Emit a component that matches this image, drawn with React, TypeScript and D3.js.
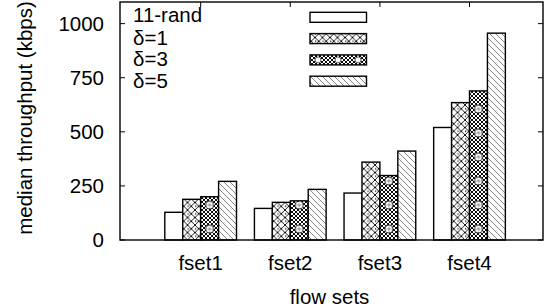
import React, { useEffect, useRef } from 'react';
import * as d3 from 'd3';

const categories = ['fset1', 'fset2', 'fset3', 'fset4'];
const seriesNames = ['11-rand', 'δ=1', 'δ=3', 'δ=5'];
const rand11 = [128, 146, 217, 520];
const delta1 = [188, 174, 360, 635];
const delta3 = [200, 181, 298, 689];
const delta5 = [271, 234, 411, 956];
const yTicks = [0, 250, 500, 750, 1000];

const W = 544;
const H = 308;
const FONT = '"Liberation Sans", Arial, sans-serif';

function App() {
  const ref = useRef<SVGSVGElement>(null);

  useEffect(() => {
    const svg = d3.select(ref.current);
    svg.selectAll('*').remove();

    const left = 120, right = 543, top = 2, bottom = 240;
    const x = d3.scaleLinear().domain([-0.9, 3.82]).range([left, right]);
    const y = d3.scaleLinear().domain([0, 1100]).range([bottom, top]);
    const step = x(1) - x(0);
    const bw = 0.2; // bar width in category units

    const series = [rand11, delta1, delta3, delta5];
    const fills = ['#fff', 'url(#cross1)', 'url(#cross3)', 'url(#diag5)'];

    // patterns
    const defs = svg.append('defs');
    const p1 = defs.append('pattern').attr('id', 'cross1').attr('patternUnits', 'userSpaceOnUse')
      .attr('width', 7.5).attr('height', 7.5);
    p1.append('rect').attr('width', 7.5).attr('height', 7.5).attr('fill', '#fff');
    p1.append('path').attr('d', 'M0,0L7.5,7.5M7.5,0L0,7.5').attr('stroke', '#000').attr('stroke-width', 0.9);
    p1.append('rect').attr('x', 0).attr('y', 3.2).attr('width', 1.2).attr('height', 1.2).attr('fill', '#000');

    const p3 = defs.append('pattern').attr('id', 'cross3').attr('patternUnits', 'userSpaceOnUse')
      .attr('width', 4).attr('height', 4);
    p3.append('rect').attr('width', 4).attr('height', 4).attr('fill', '#fff');
    p3.append('path').attr('d', 'M0,0L4,4M4,0L0,4').attr('stroke', '#000').attr('stroke-width', 0.95);

    // circle ornaments for the δ=3 column, repeated every category step
    const c3x = x(0) + 0.5 * bw * step;
    const p3c = defs.append('pattern').attr('id', 'circ3').attr('patternUnits', 'userSpaceOnUse')
      .attr('x', c3x - step / 2).attr('y', bottom - 11).attr('width', step).attr('height', 24);
    [0, 24].forEach(cy => {
      p3c.append('circle').attr('cx', step / 2).attr('cy', cy).attr('r', 4)
        .attr('fill', '#fff').attr('stroke', '#222').attr('stroke-width', 1);
      p3c.append('path').attr('d', `M${step / 2 - 2.5},${cy}H${step / 2 + 2.5}M${step / 2},${cy - 2.5}V${cy + 2.5}`)
        .attr('stroke', '#666').attr('stroke-width', 0.7);
    });

    const p5 = defs.append('pattern').attr('id', 'diag5').attr('patternUnits', 'userSpaceOnUse')
      .attr('width', 6).attr('height', 6);
    p5.append('rect').attr('width', 6).attr('height', 6).attr('fill', '#fff');
    p5.append('path').attr('d', 'M-1,-1L7,7M-4,2L2,8M4,-2L8,2').attr('stroke', '#666').attr('stroke-width', 0.8);

    // ticks (inward, mirrored)
    const tk = svg.append('g').attr('stroke', '#000').attr('stroke-width', 1);
    yTicks.forEach(v => {
      tk.append('line').attr('x1', left).attr('x2', left + 5).attr('y1', y(v)).attr('y2', y(v));
      tk.append('line').attr('x1', right).attr('x2', right - 5).attr('y1', y(v)).attr('y2', y(v));
    });
    categories.forEach((_, i) => {
      tk.append('line').attr('x1', x(i)).attr('x2', x(i)).attr('y1', top).attr('y2', top + 5);
      tk.append('line').attr('x1', x(i)).attr('x2', x(i)).attr('y1', bottom).attr('y2', bottom - 5);
    });

    // bars
    series.forEach((vals, s) => {
      const g = svg.append('g');
      const bars = g.selectAll('rect.b').data(vals).enter();
      bars.append('rect').attr('class', 'b')
        .attr('x', (d, i) => x(i + (s - 2) * bw))
        .attr('width', bw * step)
        .attr('y', d => y(d))
        .attr('height', d => bottom - y(d))
        .attr('fill', fills[s])
        .attr('stroke', '#000').attr('stroke-width', 1.4);
      if (s === 2) {
        bars.append('rect')
          .attr('x', (d, i) => x(i + (s - 2) * bw) + 1)
          .attr('width', bw * step - 2)
          .attr('y', d => y(d) + 1)
          .attr('height', d => bottom - y(d) - 1)
          .attr('fill', 'url(#circ3)');
      }
    });

    // frame
    svg.append('rect').attr('x', left).attr('y', top).attr('width', right - left).attr('height', bottom - top)
      .attr('fill', 'none').attr('stroke', '#000').attr('stroke-width', 1.4);

    // labels
    const txt = svg.append('g').attr('font-family', FONT).attr('font-size', 20.5).attr('fill', '#000');
    yTicks.forEach(v => {
      txt.append('text').attr('x', 104).attr('y', y(v)).attr('dy', '0.35em')
        .attr('text-anchor', 'end').text(v);
    });
    categories.forEach((c, i) => {
      txt.append('text').attr('x', x(i)).attr('y', 269.5).attr('text-anchor', 'middle').text(c);
    });
    txt.append('text').attr('x', (left + right) / 2 - 2).attr('y', 304).attr('text-anchor', 'middle').text('flow sets');
    txt.append('text').attr('transform', `translate(32,118) rotate(-90)`)
      .attr('text-anchor', 'middle').text('median throughput (kbps)');

    // legend
    seriesNames.forEach((name, s) => {
      const cy = 17.3 + s * 21.3;
      txt.append('text').attr('x', 133).attr('y', cy + 5).attr('dy', s === 0 ? 0 : 1.5).text(name);
      svg.append('rect').attr('x', 310).attr('y', cy - 5).attr('width', 56.5).attr('height', 10)
        .attr('fill', fills[s])
        .attr('stroke', '#000').attr('stroke-width', 1.4);
      if (s === 2) {
        [318, 338, 358].forEach(cx => {
          svg.append('circle').attr('cx', cx).attr('cy', cy).attr('r', 3)
            .attr('fill', '#fff').attr('stroke', '#333').attr('stroke-width', 0.8);
        });
      }
    });
  }, []);

  return (
    <svg
      ref={ref}
      width={W}
      height={H}
      style={{ position: 'absolute', left: 0, top: 0, background: '#fff' }}
    />
  );
}

export default App;
